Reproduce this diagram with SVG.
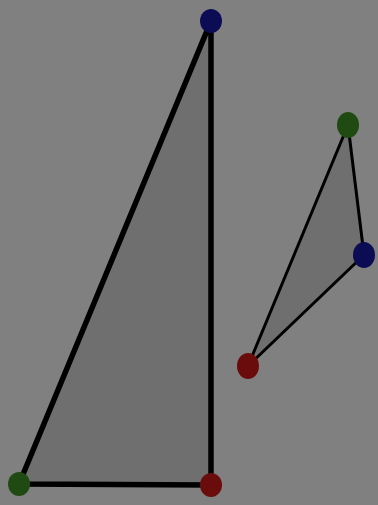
<svg xmlns="http://www.w3.org/2000/svg" width="378" height="505" viewBox="0 0 378 505">
<style>
.tri{fill:#6f6f6f;stroke:#000;stroke-linejoin:round}
.big{stroke-width:5.5}
.small{stroke-width:3}
.b{fill:#0c0c55}
.g{fill:#1f4a12}
.r{fill:#6a0c0c}
</style>
<rect width="378" height="505" fill="#808080"/>
<g id="connectors">
<polygon class="tri big" points="211,21 211,485 19,484"/>
<polygon class="tri small" points="348,125 364,255 248,366"/>
</g>
<g id="n1"><ellipse class="b" cx="211" cy="21" rx="11" ry="12"/></g>
<g id="n2"><ellipse class="r" cx="211" cy="485" rx="11" ry="12"/></g>
<g id="n3"><ellipse class="g" cx="19" cy="484" rx="11" ry="12"/></g>
<g id="n4"><ellipse class="g" cx="348" cy="125" rx="11" ry="13"/></g>
<g id="n5"><ellipse class="b" cx="364" cy="255" rx="11" ry="13"/></g>
<g id="n6"><ellipse class="r" cx="248" cy="366" rx="11" ry="13"/></g>
</svg>
